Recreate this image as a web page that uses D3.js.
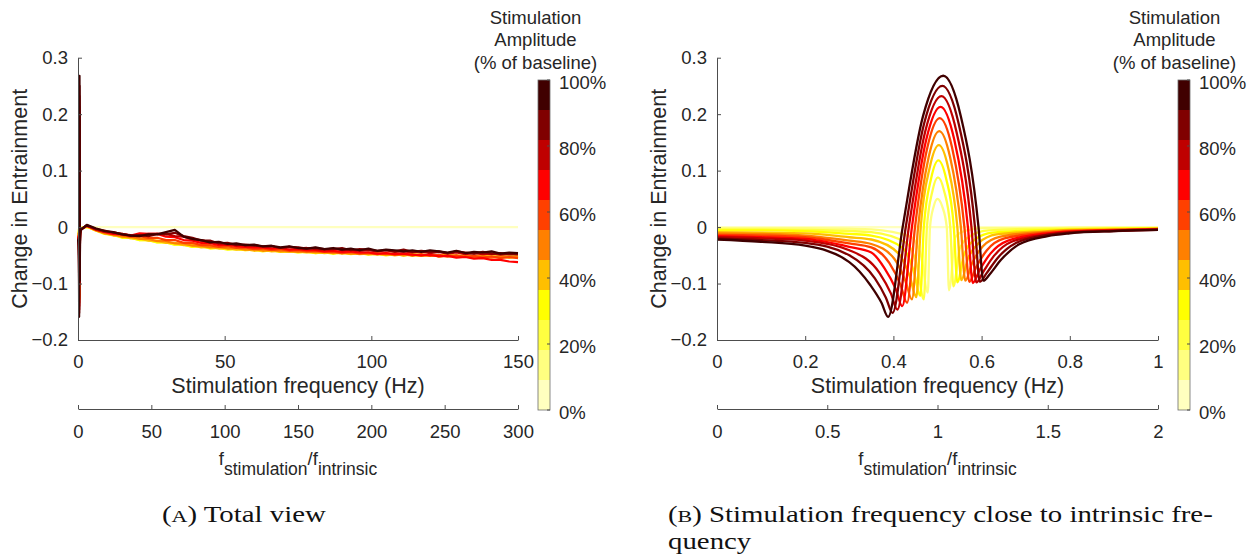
<!DOCTYPE html>
<html>
<head>
<meta charset="utf-8">
<script src="https://cdn.jsdelivr.net/npm/d3@7"></script>
<style>
  html, body { margin: 0; padding: 0; background: #fff; }
  svg { display: block; }
  .axis path, .axis line { stroke: #4d4d4d; stroke-width: 1; }
  .axis text { fill: #262626; font-family: "Liberation Sans", Arial, sans-serif; font-size: 18.5px; }
  .lbl { fill: #262626; font-family: "Liberation Sans", Arial, sans-serif; font-size: 18.5px; }
  .big { font-size: 21.5px; }
  .cap { fill: #111; font-family: "Liberation Serif", "DejaVu Serif", serif; font-size: 23px; }
</style>
</head>
<body>
<svg id="fig" width="1256" height="558"></svg>
<script>
// Stimulation amplitude levels (% of baseline) and their colours
const ampLevels = [0, 10, 20, 30, 40, 50, 60, 70, 80, 90, 100];
const ampColors = ["#ffffbf", "#ffff80", "#ffff40", "#ffff00", "#ffbf00", "#ff8000",
                   "#ff4000", "#ff0000", "#bf0000", "#800000", "#400000"];

// Tick labels
const yTicks = [-0.2, -0.1, 0, 0.1, 0.2, 0.3];
const hzTicksTotal = [0, 50, 100, 150];
const ratioTicksTotal = [0, 50, 100, 150, 200, 250, 300];
const hzTicksNear = [0, 0.2, 0.4, 0.6, 0.8, 1];
const ratioTicksNear = [0, 0.5, 1, 1.5, 2];
const cbarTicks = [0, 20, 40, 60, 80, 100];

// Change in entrainment below 1 Hz: [frequency (Hz), change]
const near0 = [[0, 0], [1, 0]];
const near10 = [[0,-0.002],[0.1,-0.002],[0.2,-0.002],[0.3,-0.003],[0.35,-0.004],[0.438,-0.017],[0.463,-0.052],[0.478,-0.116],[0.483,0],[0.4915,0.037],[0.5,0.05],[0.5105,0.037],[0.521,0],[0.526,-0.112],[0.541,-0.017],[0.566,-0.006],[0.606,-0.002],[0.75,-0.002],[0.8,-0.001],[0.9,-0.001],[1,-0.001]];
const near20 = [[0,-0.004],[0.1,-0.004],[0.2,-0.005],[0.3,-0.007],[0.35,-0.009],[0.429,-0.028],[0.454,-0.070],[0.469,-0.128],[0.476,0],[0.4885,0.064],[0.501,0.088],[0.515,0.064],[0.529,0],[0.536,-0.105],[0.551,-0.037],[0.576,-0.015],[0.616,-0.006],[0.75,-0.003],[0.8,-0.003],[0.9,-0.002],[1,-0.002]];
const near30 = [[0,-0.006],[0.1,-0.006],[0.2,-0.007],[0.3,-0.012],[0.35,-0.015],[0.421,-0.037],[0.446,-0.078],[0.461,-0.122],[0.469,0],[0.4855,0.086],[0.502,0.118],[0.5195,0.086],[0.537,0],[0.545,-0.098],[0.56,-0.049],[0.585,-0.022],[0.625,-0.010],[0.75,-0.005],[0.8,-0.004],[0.9,-0.003],[1,-0.002]];
const near40 = [[0,-0.009],[0.1,-0.010],[0.2,-0.011],[0.3,-0.018],[0.35,-0.022],[0.412,-0.047],[0.437,-0.087],[0.452,-0.124],[0.462,0],[0.4825,0.106],[0.503,0.145],[0.524,0.106],[0.545,0],[0.554,-0.094],[0.569,-0.056],[0.594,-0.028],[0.634,-0.013],[0.75,-0.007],[0.8,-0.005],[0.9,-0.004],[1,-0.003]];
const near50 = [[0,-0.011],[0.1,-0.012],[0.2,-0.015],[0.3,-0.024],[0.35,-0.030],[0.402,-0.056],[0.427,-0.095],[0.442,-0.128],[0.456,0],[0.48,0.124],[0.504,0.170],[0.5285,0.124],[0.553,0],[0.563,-0.095],[0.578,-0.065],[0.603,-0.034],[0.643,-0.017],[0.75,-0.008],[0.8,-0.006],[0.9,-0.005],[1,-0.003]];
const near60 = [[0,-0.014],[0.1,-0.015],[0.2,-0.018],[0.3,-0.029],[0.35,-0.036],[0.391,-0.064],[0.416,-0.102],[0.431,-0.134],[0.449,0],[0.477,0.141],[0.505,0.193],[0.533,0.141],[0.561,0],[0.572,-0.097],[0.587,-0.072],[0.612,-0.041],[0.652,-0.020],[0.75,-0.010],[0.8,-0.007],[0.9,-0.005],[1,-0.004]];
const near70 = [[0,-0.016],[0.1,-0.018],[0.2,-0.021],[0.3,-0.035],[0.35,-0.045],[0.38,-0.073],[0.405,-0.109],[0.42,-0.140],[0.442,0],[0.4745,0.155],[0.507,0.213],[0.538,0.155],[0.569,0],[0.58,-0.099],[0.595,-0.077],[0.62,-0.047],[0.66,-0.024],[0.75,-0.011],[0.8,-0.008],[0.9,-0.006],[1,-0.004]];
const near80 = [[0,-0.018],[0.1,-0.020],[0.2,-0.024],[0.3,-0.041],[0.369,-0.082],[0.394,-0.117],[0.409,-0.146],[0.435,0],[0.472,0.169],[0.509,0.232],[0.543,0.169],[0.577,0],[0.588,-0.098],[0.603,-0.080],[0.628,-0.051],[0.668,-0.026],[0.75,-0.013],[0.8,-0.009],[0.9,-0.006],[1,-0.004]];
const near90 = [[0,-0.020],[0.1,-0.023],[0.2,-0.028],[0.3,-0.050],[0.358,-0.091],[0.383,-0.125],[0.398,-0.152],[0.428,0],[0.4695,0.183],[0.511,0.250],[0.548,0.183],[0.585,0],[0.596,-0.097],[0.611,-0.082],[0.636,-0.055],[0.676,-0.029],[0.75,-0.014],[0.8,-0.010],[0.9,-0.007],[1,-0.005]];
const near100 = [[0,-0.022],[0.1,-0.026],[0.2,-0.033],[0.3,-0.062],[0.348,-0.103],[0.373,-0.134],[0.388,-0.159],[0.421,0],[0.467,0.196],[0.513,0.268],[0.553,0.196],[0.593,0],[0.604,-0.095],[0.619,-0.083],[0.644,-0.058],[0.684,-0.031],[0.75,-0.016],[0.8,-0.011],[0.9,-0.007],[1,-0.005]];

// Change in entrainment from 3 Hz to 150 Hz in 3 Hz steps (units of 0.001)
const farFreq = d3.range(3, 151, 3);
const far0 = [0,0,0,0,0,0,0,0,0,0,0,0,0,0,0,0,0,0,0,0,0,0,0,0,0,0,0,0,0,0,0,0,0,0,0,0,0,0,0,0,0,0,0,0,0,0,0,0,0,0];
const far10 = [0,-4,-10,-12,-17,-18,-22,-22,-26,-26,-30,-30,-33,-33,-36,-35,-38,-37,-40,-39,-41,-40,-43,-41,-44,-42,-45,-43,-46,-44,-46,-45,-47,-46,-48,-46,-49,-47,-49,-48,-50,-48,-51,-49,-51,-49,-52,-50,-52,-50];
const far20 = [0,-5,-11,-13,-18,-19,-23,-23,-27,-27,-31,-31,-35,-34,-37,-36,-39,-38,-41,-40,-42,-41,-44,-42,-45,-43,-46,-44,-47,-45,-47,-46,-48,-47,-49,-47,-50,-48,-50,-49,-51,-49,-52,-50,-52,-50,-53,-51,-53,-51];
const far30 = [1,-6,-12,-14,-19,-19,-23,-23,-27,-27,-31,-31,-35,-34,-38,-37,-40,-39,-41,-40,-43,-41,-44,-43,-45,-44,-46,-45,-47,-45,-48,-46,-49,-47,-50,-48,-50,-49,-51,-49,-52,-50,-52,-51,-53,-51,-53,-52,-54,-52];
const far40 = [1,-6,-11,-15,-16,-20,-20,-24,-24,-28,-28,-32,-32,-36,-35,-38,-37,-40,-39,-42,-40,-43,-42,-44,-43,-45,-44,-46,-45,-47,-46,-48,-47,-49,-47,-50,-48,-51,-49,-51,-50,-52,-50,-53,-51,-53,-52,-54,-52,-54];
const far50 = [2,-5,-11,-12,-17,-17,-21,-21,-25,-25,-29,-29,-33,-33,-36,-35,-38,-37,-40,-39,-42,-40,-43,-42,-44,-43,-45,-44,-46,-45,-47,-46,-48,-47,-49,-48,-50,-48,-51,-49,-52,-50,-52,-51,-53,-51,-54,-52,-54,-53];
const far60 = [3,-5,-9,-13,-14,-17,-16,-19,-19,-23,-23,-28,-28,-32,-32,-35,-34,-37,-36,-39,-38,-41,-39,-42,-41,-43,-42,-44,-43,-46,-44,-47,-45,-48,-46,-49,-47,-50,-48,-51,-49,-52,-50,-53,-51,-54,-52,-55,-53,-55];
const far70 = [2,-4,-8,-12,-12,-15,-11,-12,-12,-17,-18,-23,-24,-28,-28,-32,-31,-34,-35,-36,-36,-38,-37,-40,-39,-41,-41,-43,-42,-44,-43,-45,-45,-47,-46,-48,-47,-49,-50,-49,-52,-51,-54,-53,-56,-55,-58,-58,-61,-62];
const far80 = [3,-4,-8,-9,-13,-14,-15,-12,-12,-12,-16,-17,-22,-23,-27,-27,-31,-30,-33,-32,-35,-34,-37,-35,-38,-37,-39,-40,-38,-41,-40,-42,-41,-43,-41,-44,-43,-45,-43,-46,-44,-47,-45,-48,-46,-48,-47,-49,-48,-49];
const far90 = [3,-3,-6,-10,-12,-15,-14,-16,-12,-13,-10,-16,-19,-24,-24,-29,-28,-32,-31,-33,-34,-34,-37,-35,-36,-38,-37,-39,-39,-37,-41,-39,-40,-42,-41,-43,-40,-44,-42,-44,-43,-46,-43,-45,-47,-44,-47,-46,-48,-47];
const far100 = [4,-2,-7,-9,-13,-15,-16,-13,-13,-9,-5,-17,-21,-23,-27,-26,-30,-29,-32,-31,-34,-33,-36,-34,-37,-38,-36,-39,-37,-40,-38,-41,-38,-42,-40,-41,-43,-41,-44,-41,-43,-45,-42,-46,-44,-45,-43,-47,-45,-46];

const nearSets = [near0, near10, near20, near30, near40, near50, near60, near70, near80, near90, near100];
const farSets = [far0, far10, far20, far30, far40, far50, far60, far70, far80, far90, far100];

const series = ampLevels.map((a, i) => ({
  amp: a,
  color: ampColors[i],
  near: nearSets[i],
  full: nearSets[i].concat(farSets[i].map((v, j) => [farFreq[j], v / 1000]))
}));

const svg = d3.select("#fig");

// Shared vertical layout
const yTop = 57.7, yBot = 340, yRatioAxis = 409;
const y = d3.scaleLinear().domain([-0.2, 0.3]).range([yBot, yTop]);

function drawPanel(opt) {
  const g = svg.append("g");
  const x = d3.scaleLinear().domain(opt.hzDomain).range([opt.x0, opt.x1]);
  const x2 = d3.scaleLinear().domain(opt.ratioDomain).range([opt.x0, opt.x1]);

  // curves, lightest first so the strongest stimulation sits on top
  const line = d3.line().x(d => x(d[0])).y(d => y(d[1])).curve(opt.curve);
  g.append("g").selectAll("path").data(series).join("path")
    .attr("fill", "none")
    .attr("stroke", d => d.color)
    .attr("stroke-width", opt.lineWidth)
    .attr("stroke-linejoin", "round")
    .attr("d", d => line(opt.pick(d)));

  // y axis
  g.append("g").attr("class", "axis")
    .attr("transform", `translate(${opt.x0},0)`)
    .call(d3.axisLeft(y).tickValues(yTicks).tickSizeInner(-4).tickSizeOuter(0).tickPadding(10)
      .tickFormat(d => d === 0 ? "0" : d3.format(".1f")(d)));

  // frequency axis
  g.append("g").attr("class", "axis")
    .attr("transform", `translate(0,${yBot})`)
    .call(d3.axisBottom(x).tickValues(opt.hzTicks).tickSizeInner(-4).tickSizeOuter(0).tickPadding(15)
      .tickFormat(d => String(+d.toFixed(2))));

  // frequency-ratio axis
  g.append("g").attr("class", "axis")
    .attr("transform", `translate(0,${yRatioAxis})`)
    .call(d3.axisBottom(x2).tickValues(opt.ratioTicks).tickSizeInner(-4).tickSizeOuter(0).tickPadding(16)
      .tickFormat(d => String(+d.toFixed(2))));

  const cx = (opt.x0 + opt.x1) / 2;
  g.append("text").attr("class", "lbl big")
    .attr("x", cx).attr("y", 393).attr("text-anchor", "middle")
    .text("Stimulation frequency (Hz)");

  const rl = g.append("text").attr("class", "lbl")
    .attr("font-size", 20.5)
    .attr("x", cx).attr("y", 465).attr("text-anchor", "middle");
  rl.append("tspan").text("f");
  rl.append("tspan").attr("dy", 10).attr("font-size", 17.5).text("stimulation");
  rl.append("tspan").attr("dy", -10).text("/f");
  rl.append("tspan").attr("dy", 10).attr("font-size", 17.5).text("intrinsic");

  g.append("text").attr("class", "lbl big")
    .attr("transform", `translate(${opt.x0 - 51},${(yTop + yBot) / 2}) rotate(-90)`)
    .attr("text-anchor", "middle")
    .text("Change in Entrainment");

  // colour bar
  const cb = g.append("g");
  const cy = d3.scaleLinear().domain([0, 100]).range([410, 80]);
  const step = 100 / ampLevels.length;
  cb.selectAll("rect.seg").data(ampColors).join("rect")
    .attr("class", "seg")
    .attr("x", opt.cbX).attr("width", 12)
    .attr("y", (c, i) => cy((i + 1) * step))
    .attr("height", (c, i) => cy(i * step) - cy((i + 1) * step))
    .attr("fill", c => c);
  cb.append("rect")
    .attr("x", opt.cbX).attr("y", cy(100)).attr("width", 12).attr("height", cy(0) - cy(100))
    .attr("fill", "none").attr("stroke", "#6b6b6b").attr("stroke-width", 0.8);
  cb.selectAll("line.tk").data(cbarTicks).join("line")
    .attr("class", "tk")
    .attr("x1", opt.cbX + 12).attr("x2", opt.cbX + 9)
    .attr("y1", d => cy(d)).attr("y2", d => cy(d))
    .attr("stroke", "#4d4d4d").attr("stroke-width", 1);
  cb.selectAll("text.tl").data(cbarTicks).join("text")
    .attr("class", "lbl tl")
    .attr("x", opt.cbX + 21).attr("y", d => cy(d) + 3)
    .attr("dy", "0.35em")
    .text(d => d + "%");

  const titleLines = ["Stimulation", "Amplitude", "(% of baseline)"];
  g.selectAll("text.ct").data(titleLines).join("text")
    .attr("class", "lbl ct")
    .attr("font-size", 17.2)
    .attr("x", opt.titleX).attr("y", (d, i) => 24 + i * 22.3)
    .attr("text-anchor", "middle")
    .text(d => d);
}

drawPanel({
  x0: 78, x1: 518, hzDomain: [0, 150], ratioDomain: [0, 300],
  hzTicks: hzTicksTotal, ratioTicks: ratioTicksTotal,
  pick: d => d.full, curve: d3.curveLinear, lineWidth: 2.2,
  cbX: 538, titleX: 535.5
});

drawPanel({
  x0: 717, x1: 1158, hzDomain: [0, 1], ratioDomain: [0, 2],
  hzTicks: hzTicksNear, ratioTicks: ratioTicksNear,
  pick: d => d.near, curve: d3.curveMonotoneX, lineWidth: 2.3,
  cbX: 1178, titleX: 1174.5
});

// sub-figure captions, set in a wide roman face (horizontal stretch shared by all lines)
function caption(x, yy, letter, rest) {
  const t = svg.append("text").attr("class", "cap").attr("x", 0).attr("y", 0)
    .attr("data-x", x).attr("data-y", yy);
  if (letter) {
    t.append("tspan").text("(");
    t.append("tspan").attr("font-size", 17.5).text(letter);
    t.append("tspan").text(") " + rest);
  } else {
    t.text(rest);
  }
  return t;
}
const capA = caption(162, 522, "A", "Total view");
const capB = caption(668, 522, "B", "Stimulation frequency close to intrinsic fre-");
const capB2 = caption(668, 549, null, "quency");
const stretch = 545 / capB.node().getComputedTextLength();
[capA, capB, capB2].forEach(t =>
  t.attr("transform", `translate(${t.attr("data-x")},${t.attr("data-y")}) scale(${stretch},1)`));
</script>
</body>
</html>
